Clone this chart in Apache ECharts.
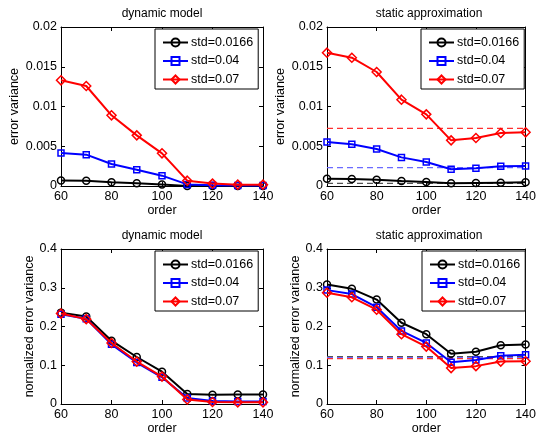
<!DOCTYPE html>
<html>
<head>
<meta charset="utf-8">
<script src="https://cdn.jsdelivr.net/npm/echarts@6/dist/echarts.min.js"></script>
<style>
  html, body { margin: 0; padding: 0; background: #fff; }
  #chart { width: 539px; height: 436px; }
</style>
</head>
<body>
<div id="chart"></div>
<script>
const orders = [60, 70, 80, 90, 100, 110, 120, 130, 140]
const seriesNames = ['std=0.0166', 'std=0.04', 'std=0.07']
const titles = ['dynamic model', 'static approximation', 'dynamic model', 'static approximation']
const yNames = ['error variance', 'error variance', 'normalized error variance', 'normalized error variance']

// error variance, dynamic model
const dynErr0166 = [0.0007, 0.00067, 0.00046, 0.00034, 0.0002, 0.0, 0.0, 0.0, 0.0]
const dynErr04 = [0.00415, 0.00394, 0.00277, 0.00205, 0.0013, 0.0002, 0.0001, 0.00005, 0.00005]
const dynErr07 = [0.01329, 0.01258, 0.00889, 0.00637, 0.00411, 0.00067, 0.0003, 0.00017, 0.00017]
// error variance, static approximation
const statErr0166 = [0.00092, 0.00088, 0.0008, 0.00063, 0.0005, 0.00034, 0.00038, 0.00042, 0.00046]
const statErr04 = [0.00553, 0.00524, 0.00465, 0.0036, 0.00302, 0.0021, 0.00222, 0.00247, 0.00252]
const statErr07 = [0.01677, 0.01614, 0.01434, 0.01086, 0.00901, 0.00574, 0.00604, 0.00667, 0.00675]
const statErrRef = [0.00034, 0.0023, 0.00725]
// normalized error variance, dynamic model
const dynNorm0166 = [0.2358, 0.2257, 0.1634, 0.1213, 0.0834, 0.0261, 0.0236, 0.0244, 0.0244]
const dynNorm04 = [0.2316, 0.2198, 0.154, 0.107, 0.069, 0.0152, 0.0076, 0.0067, 0.0067]
const dynNorm07 = [0.2333, 0.219, 0.1575, 0.1095, 0.0707, 0.0118, 0.005, 0.0042, 0.0042]
// normalized error variance, static approximation
const statNorm0166 = [0.3082, 0.2973, 0.2695, 0.2097, 0.1802, 0.1297, 0.1347, 0.1516, 0.1533]
const statNorm04 = [0.2939, 0.2838, 0.25, 0.1886, 0.1575, 0.1078, 0.1137, 0.1246, 0.1272]
const statNorm07 = [0.2872, 0.2754, 0.2434, 0.1802, 0.1482, 0.0926, 0.0977, 0.1095, 0.1103]
const statNormRef = [0.1223, 0.1195, 0.1172]

const yMax = [0.02, 0.02, 0.4, 0.4]
const yStep = [0.005, 0.005, 0.1, 0.1]

const colors = ['#000000', '#0000ff', '#ff0000']
const refColors = ['#555555', '#6a6aff', '#ff3030']
const symbols = ['circle', 'rect', 'diamond']
const symbolSizes = [7, 6, 9]

const grids = [
  { left: 61, top: 27, width: 202, height: 159 },
  { left: 327, top: 27, width: 204, height: 159 },
  { left: 61, top: 249, width: 202, height: 158 },
  { left: 327, top: 249, width: 204, height: 158 }
]
const yNameGap = [40, 40, 25, 25]

const font = 'Liberation Sans, Arial, sans-serif'
const axisLine = { show: true, onZero: false, lineStyle: { color: '#000', width: 1 } }
const axisTick = { show: true, inside: true, length: 4, lineStyle: { color: '#000' } }

const xAxes = []
const yAxes = []
grids.forEach((g, i) => {
  xAxes.push({
    gridIndex: i, type: 'value', min: 60, max: 140, interval: 20, position: 'bottom',
    name: 'order', nameLocation: 'middle', nameGap: 18,
    nameTextStyle: { color: '#000', fontSize: 12.5, fontFamily: font },
    axisLine, axisTick, splitLine: { show: false },
    axisLabel: { color: '#000', fontSize: 12.5, fontFamily: font, margin: 4 }
  })
  xAxes.push({
    gridIndex: i, type: 'value', min: 60, max: 140, interval: 20, position: 'top',
    axisLine, axisTick, splitLine: { show: false }, axisLabel: { show: false }
  })
  yAxes.push({
    gridIndex: i, type: 'value', min: 0, max: yMax[i], interval: yStep[i], position: 'left',
    name: yNames[i], nameLocation: 'middle', nameGap: yNameGap[i],
    nameTextStyle: { color: '#000', fontSize: 12.5, fontFamily: font },
    axisLine, axisTick, splitLine: { show: false },
    axisLabel: { color: '#000', fontSize: 12.5, fontFamily: font, margin: 4 }
  })
  yAxes.push({
    gridIndex: i, type: 'value', min: 0, max: yMax[i], interval: yStep[i], position: 'right',
    axisLine, axisTick, splitLine: { show: false }, axisLabel: { show: false }
  })
})

const panelData = [
  [dynErr0166, dynErr04, dynErr07],
  [statErr0166, statErr04, statErr07],
  [dynNorm0166, dynNorm04, dynNorm07],
  [statNorm0166, statNorm04, statNorm07]
]
const panelRefs = [null, statErrRef, null, statNormRef]

const series = []
panelData.forEach((sets, p) => {
  // dashed reference levels of the static approximation
  if (panelRefs[p]) {
    panelRefs[p].forEach((v, k) => {
      series.push({
        name: 'ref ' + seriesNames[k],
        type: 'line',
        xAxisIndex: p * 2,
        yAxisIndex: p * 2,
        data: [[orders[0], v], [orders[orders.length - 1], v]],
        symbol: 'none',
        silent: true,
        z: 2,
        lineStyle: { type: [6, 4], color: refColors[k], width: 1.2 }
      })
    })
  }
  sets.forEach((vals, k) => {
    series.push({
      name: seriesNames[k],
      type: 'line',
      xAxisIndex: p * 2,
      yAxisIndex: p * 2,
      data: orders.map((o, j) => [o, vals[j]]),
      symbol: symbols[k],
      symbolSize: symbolSizes[k],
      showAllSymbol: true,
      z: 3 + k,
      lineStyle: { color: colors[k], width: 2 },
      itemStyle: { color: 'rgba(255,255,255,0)', borderColor: colors[k], borderWidth: 1.5 }
    })
  })
})

const legendPos = [
  { left: 155, top: 29 },
  { left: 421, top: 29 },
  { left: 155, top: 251 },
  { left: 422, top: 251 }
]
const legends = legendPos.map(pos => ({
  left: pos.left, top: pos.top, orient: 'vertical',
  data: seriesNames, selectedMode: false,
  backgroundColor: '#fff', borderColor: '#000', borderWidth: 1,
  padding: [7, 5, 3, 7], itemGap: 5.5, itemWidth: 25, itemHeight: 10,
  textStyle: { color: '#000', fontSize: 12.5, fontFamily: font, padding: [0, 0, 0, -2] }
}))

const titleOpts = grids.map((g, i) => ({
  text: titles[i], left: g.left + g.width / 2, top: g.top - 19, textAlign: 'center', padding: 0,
  textStyle: { color: '#000', fontSize: 12, fontWeight: 'normal', fontFamily: font }
}))

const chart = echarts.init(document.getElementById('chart'))
chart.setOption({
  animation: false,
  backgroundColor: '#fff',
  title: titleOpts,
  legend: legends,
  grid: grids,
  xAxis: xAxes,
  yAxis: yAxes,
  series
})
</script>
</body>
</html>
